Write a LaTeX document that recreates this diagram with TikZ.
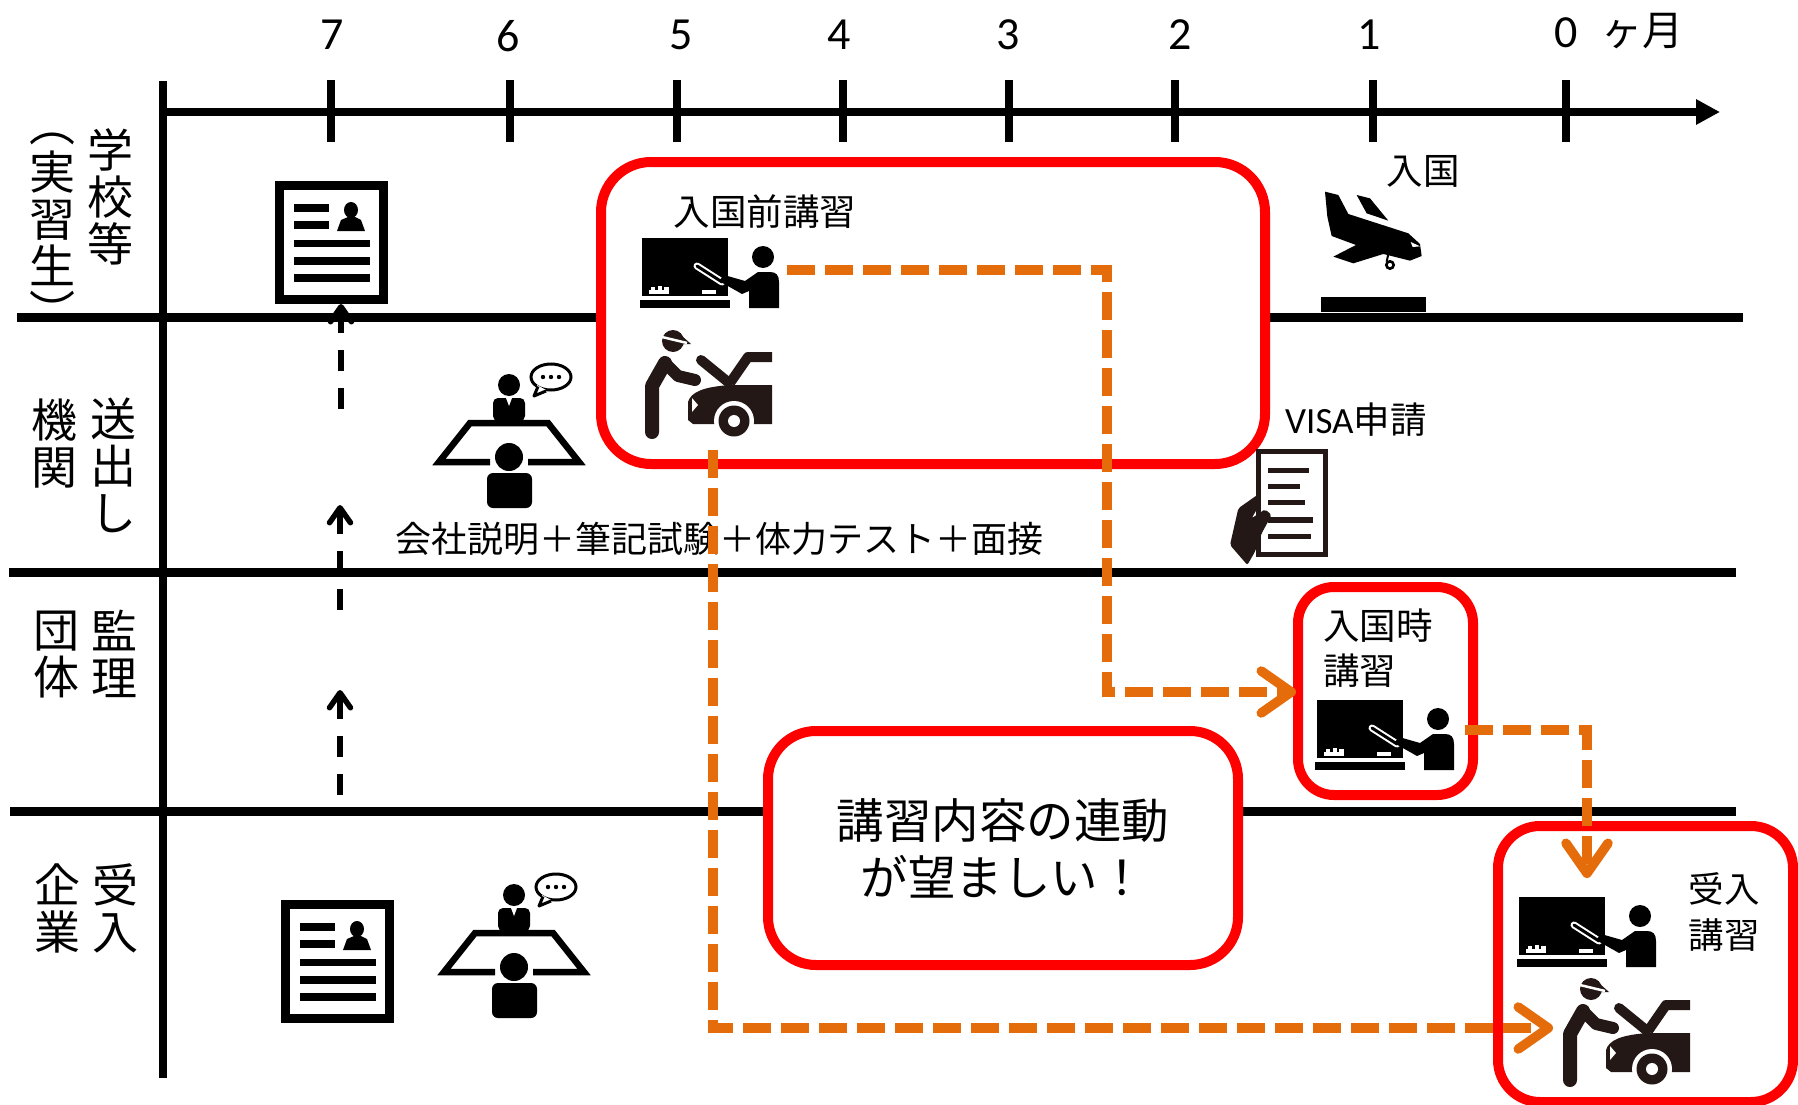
\documentclass[tikz,border=0pt]{standalone}
\usepackage{fontspec}
\usetikzlibrary{arrows.meta}
\setmainfont{Noto Sans CJK JP}
\newfontfamily\latinf{Carlito}
\definecolor{ora}{HTML}{E46C0A}
\definecolor{redb}{HTML}{FF0000}
\definecolor{dk}{HTML}{231815}
\tikzset{
  x=1pt,y=-1pt,
  axisline/.style={line width=8.5pt,black},
  sepline/.style={line width=9pt,black},
  tick/.style={line width=8pt,black},
  redbox/.style={draw=redb,line width=10pt,fill=white,rounded corners=#1,inner sep=0pt,align=center},
  orangeline/.style={draw=ora,line width=9.5pt,dash pattern=on 28pt off 10pt,-{Straight Barb[length=30pt,width=42pt,round,line width=9.5pt]}},
  blackdash/.style={draw=black,line width=5.5pt,dash pattern=on 21.5pt off 16.5pt,-{Straight Barb[length=15pt,width=21pt,round,line width=5.5pt]}},
  digit/.style={font=\latinf\fontsize{46}{46}\selectfont,inner sep=0pt},
  lab/.style={font=\fontsize{36.5}{42}\selectfont,inner sep=0pt,align=center},
  vlab/.style={font=\fontsize{46}{47}\selectfont,inner sep=0pt,align=center},
  pics/teacher/.style={code={
    \fill[black] (0,0) rectangle (86,58);
    \fill[black] (-2,62) rectangle (88,70);
    \fill[white] (7,52) rectangle (27,56);
    \fill[white] (9,49) rectangle (13,52);
    \fill[white] (16,48) rectangle (20,52);
    \fill[white] (22,49) rectangle (27,52);
    \fill[white] (60,52) rectangle (74,56);
    \draw[white,line width=7pt,line cap=round] (55,28) -- (80,44);
    \draw[black,line width=3pt,line cap=round] (55,28) -- (80,44);
    \fill[black] (121,19) circle[radius=11];
    \fill[black] (137,70) -- (137,44) .. controls (137,37) and (134,34) .. (128,34)
      -- (116,34) -- (103,43) -- (82,37) -- (77,43) -- (100,56) -- (107,53) -- (107,70) -- cycle;
  }},
  pics/mechanic/.style={code={
    \draw[dk,line width=14pt,line cap=round,line join=round] (7,102) -- (7,56) -- (20,33);
    \draw[dk,line width=12pt,line cap=round,line join=round] (20,33) -- (33,46) -- (50,50);
    \fill[dk] (28,11) circle[radius=11];
    \fill[dk] (37,6) -- (46,14) -- (34,14) -- cycle;
    \draw[white,line width=2.5pt] (17,7) -- (42,13);
    \draw[dk,line width=10pt,line cap=round] (56,30) -- (83,52);
    \draw[dk,line width=10pt,line join=round] (85,53) -- (103,27) -- (127,27);
    \fill[dk] (43,72) .. controls (46,62) and (58,57) .. (85,55) -- (127,55) -- (127,94) -- (48,94) -- (43,90) -- cycle;
    \fill[white] (47,68) -- (53,75) -- (47,82) -- cycle;
    \fill[white] (89,91) circle[radius=20];
    \fill[dk] (89,91) circle[radius=15.5];
    \fill[white] (89,91) circle[radius=6];
  }},
  pics/resume/.style={code={
    \draw[black,line width=9pt,fill=white] (4.5,4.5) rectangle (108.5,118.5);
    \fill[black] (19,23) rectangle (54,31);
    \fill[black] (19,40) rectangle (54,48);
    \fill[black] (19,59) rectangle (95,66);
    \fill[black] (19,76) rectangle (95,84);
    \fill[black] (19,93) rectangle (95,101);
    \fill[black] (76,29) ellipse[x radius=7,y radius=8];
    \fill[black] (62,50) -- (66,39) -- (73,36) -- (80,36) -- (86,39) -- (90,50) -- cycle;
  }},
  pics/interview/.style={code={
    \draw[black,line width=6.5pt,miter limit=10] (57,99) -- (6,99) -- (37,60) -- (115,60) -- (146,99) -- (95,99);
    \fill[black] (76,22) circle[radius=11];
    \fill[black,rounded corners=5pt] (60,58) -- (60,35) -- (92,35) -- (92,58) -- cycle;
    \fill[white] (73,35) -- (79,35) -- (76,43) -- cycle;
    \fill[black] (76,94) circle[radius=14];
    \fill[black,rounded corners=6pt] (54,145) -- (54,110) -- (99,110) -- (99,145) -- cycle;
    \draw[black,line width=3pt,fill=white] (118,14) ellipse[x radius=20,y radius=13];
    \fill[white] (104,22) -- (113,27) -- (104,31) -- cycle;
    \draw[black,line width=3pt,line join=round] (105,23.5) -- (101,33) -- (113,28);
    \foreach \dx in {-8,0,8} \fill[black] (118+\dx,14) circle[radius=2.2];
  }},
}
\begin{document}
\begin{tikzpicture}
\useasboundingbox (0,0) rectangle (1798,1105);
\fill[white] (0,0) rectangle (1798,1105);
% grid
\coordinate (axL) at (163,112); \coordinate (axR) at (1720,112);
\draw[axisline,-{Triangle[length=24pt,width=24pt]}] (axL) -- (axR);
\coordinate (vT) at (163,81); \coordinate (vB) at (163,1078);
\draw[axisline] (vT) -- (vB);
\coordinate (h1a) at (17,317.5); \coordinate (h1b) at (1743,317.5);
\coordinate (h2a) at (9,572); \coordinate (h2b) at (1736,572);
\coordinate (h3a) at (10,811); \coordinate (h3b) at (1736,811);
\draw[sepline] (h1a) -- (h1b);
\draw[sepline] (h2a) -- (h2b);
\draw[sepline] (h3a) -- (h3b);
\foreach \tx in {331,510,677,843,1009,1175,1373,1566} \draw[tick] (\tx,80) -- (\tx,142);
% months
\node[digit] (m7) at (332,35) {7};
\node[digit] (m6) at (508,36) {6};
\node[digit] (m5) at (681,35) {5};
\node[digit] (m4) at (839,35) {4};
\node[digit] (m3) at (1008,35) {3};
\node[digit] (m2) at (1180,35) {2};
\node[digit] (m1) at (1369,35) {1};
\node[digit] (m0) at (1566,33) {0};
\node[font=\fontsize{41}{42}\selectfont,inner sep=0pt] (mm) at (1642,31) {ヶ月};
% row labels
\node[vlab] (r1a) at (110,197) {学\\校\\等};
\node[vlab] (r1b) at (52,231) {︵\\[1pt]実\\習\\生\\[-1pt]︶};
\node[vlab] (r2a) at (113,465) {送\\出\\し};
\node[vlab] (r2b) at (54,444) {機\\関};
\node[vlab] (r3a) at (114,654) {監\\理};
\node[vlab] (r3b) at (56,655) {団\\体};
\node[vlab] (r4a) at (115,908) {受\\入};
\node[vlab] (r4b) at (57,908) {企\\業};
% red boxes
\node[redbox=50pt,minimum width=664pt,minimum height=302pt] (box1) at (933,313) {};
\node[redbox=36pt,minimum width=175pt,minimum height=208pt] (box2) at (1385.5,691) {};
\node[redbox=48pt,minimum width=470pt,minimum height=234pt,font=\fontsize{47.5}{57}\selectfont] (box3) at (1003,848) {講習内容の連動\\が望ましい！};
\node[redbox=42pt,minimum width=295pt,minimum height=276pt] (box4) at (1645.5,964) {};
% icons
\pic at (275,181) {resume};
\pic at (281,900) {resume};
\pic at (433,363) {interview};
\pic at (438,873) {interview};
\pic at (642,238) {teacher};
\pic at (1317,700) {teacher};
\pic at (1519,897) {teacher};
\pic at (645,330) {mechanic};
\pic at (1563,978) {mechanic};
% plane
\begin{scope}[shift={(1220,150)},x=0.3333pt,y=-0.3333pt]
  \fill[black] (303,442) rectangle (618,487);
  \fill[black] (315,125) -- (355,135) -- (385,192) -- (565,250) -- (600,282) -- (605,318) -- (570,332) -- (490,312) -- (400,340) -- (340,320) -- (408,285) -- (335,258) -- (322,200) -- cycle;
  \fill[black] (410,135) -- (450,145) -- (505,212) -- (440,190) -- cycle;
  \fill[white] (572,276) -- (600,289) -- (578,291) -- cycle;
  \draw[black,line width=2.6pt] (510,345) circle[radius=11];
  \draw[black,line width=2pt] (505,312) -- (500,335);
  % document in hand
  \draw[dk,line width=5pt,fill=white] (115,905) rectangle (317,1215);
  \fill[dk] (145,954) rectangle (268,970);
  \fill[dk] (145,1002) rectangle (240,1018);
  \fill[dk] (145,1050) rectangle (255,1066);
  \fill[dk] (145,1102) rectangle (280,1118);
  \fill[dk] (145,1152) rectangle (272,1168);
  \fill[dk,rounded corners=2pt] (30,1185) -- (55,1075) -- (112,1035) -- (112,1075) -- (95,1105) -- (135,1078) -- (155,1095) -- (125,1150) -- (105,1205) -- (82,1245) -- cycle;
\end{scope}
% texts
\node[lab] (t1) at (765,212) {入国前講習};
\node[lab] (t2) at (1423,171) {入国};
\node[lab,anchor=west] (t3) at (1285,420) {{\latinf\fontsize{37}{42}\selectfont VISA}申請};
\node[lab,anchor=north west,align=left,font=\fontsize{36.5}{45}\selectfont] (t4) at (1323,609) {入国時\\講習};
\node[lab,font=\fontsize{35.5}{46}\selectfont] (t5) at (1724,912) {受入\\講習};
\node[lab,font=\fontsize{36}{40}\selectfont] (t6) at (719,539) {会社説明＋筆記試験＋体力テスト＋面接};
% black dashed arrows
\coordinate (b1s) at (341,409); \coordinate (b1e) at (341,304);
\coordinate (b2s) at (340,610); \coordinate (b2e) at (340,505);
\coordinate (b3s) at (340,795); \coordinate (b3e) at (340,690);
\draw[blackdash] (b1s) -- (b1e);
\draw[blackdash] (b2s) -- (b2e);
\draw[blackdash] (b3s) -- (b3e);
% orange connectors
\coordinate (o1a) at (787,270); \coordinate (o1b) at (1107,270); \coordinate (o1c) at (1107,692); \coordinate (o1d) at (1296,692);
\coordinate (o2a) at (1465,730); \coordinate (o2b) at (1587,730); \coordinate (o2c) at (1587,878);
\coordinate (o3a) at (713,450); \coordinate (o3b) at (713,1028); \coordinate (o3c) at (1553,1028);
\draw[orangeline] (o1a) -- (o1b) -- (o1c) -- (o1d);
\draw[orangeline] (o2a) -- (o2b) -- (o2c);
\draw[orangeline] (o3a) -- (o3b) -- (o3c);
\end{tikzpicture}
\end{document}
